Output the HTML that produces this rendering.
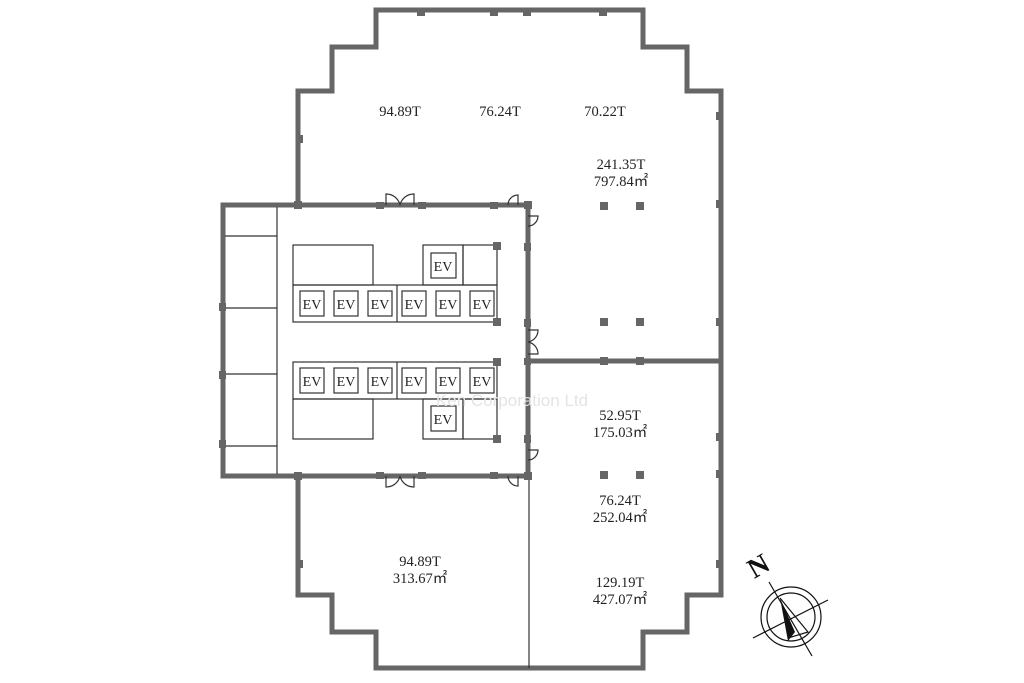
<!DOCTYPE html>
<html><head><meta charset="utf-8"><style>
html,body{margin:0;padding:0;background:#fff;}
svg{display:block}
text{font-family:"Liberation Serif",serif;font-size:14.5px;fill:#222;text-anchor:middle}
.ev{font-size:14px}
</style></head><body>
<svg width="1024" height="683" viewBox="0 0 1024 683" xmlns="http://www.w3.org/2000/svg">
<g fill="none" stroke="#666" stroke-width="5" stroke-linejoin="miter">
<polyline points="298,205 298,91 332,91 332,47 376,47 376,10 643,10 643,47 687,47 687,91 721,91 721,595 687,595 687,632 643,632 643,668 376,668 376,632 332,632 332,595 298,595 298,476"/>
<rect x="223" y="205" width="305" height="271"/>
<line x1="528" y1="361" x2="721" y2="361"/>
</g>
<g stroke="#333" stroke-width="1.2" fill="none">
<line x1="529" y1="476" x2="529" y2="668"/>
<line x1="277" y1="207" x2="277" y2="474"/>
<line x1="225" y1="236" x2="277" y2="236"/>
<line x1="225" y1="308" x2="277" y2="308"/>
<line x1="225" y1="374" x2="277" y2="374"/>
<line x1="225" y1="446" x2="277" y2="446"/>
<rect x="293" y="245" width="80" height="40"/>
<rect x="423" y="245" width="40" height="40"/>
<rect x="463" y="245" width="34" height="40"/>
<rect x="293" y="285" width="204" height="37"/>
<line x1="397" y1="285" x2="397" y2="322"/>
<rect x="293" y="362" width="204" height="37"/>
<line x1="397" y1="362" x2="397" y2="399"/>
<rect x="293" y="399" width="80" height="40"/>
<rect x="423" y="399" width="40" height="40"/>
<rect x="463" y="399" width="34" height="40"/>
<rect x="431" y="253" width="25" height="25"/>
<rect x="431" y="406" width="25" height="25"/>
<g>
<rect x="300" y="291" width="24" height="25"/><rect x="334" y="291" width="24" height="25"/><rect x="368" y="291" width="24" height="25"/>
<rect x="402" y="291" width="24" height="25"/><rect x="436" y="291" width="24" height="25"/><rect x="470" y="291" width="24" height="25"/>
</g>
<g transform="translate(0,77)">
<rect x="300" y="291" width="24" height="25"/><rect x="334" y="291" width="24" height="25"/><rect x="368" y="291" width="24" height="25"/>
<rect x="402" y="291" width="24" height="25"/><rect x="436" y="291" width="24" height="25"/><rect x="470" y="291" width="24" height="25"/>
</g>
<path d="M386,205 V194 A14,14 0 0 1 400,205 A14,14 0 0 1 414,194 V205"/>
<path d="M386,476 V487 A14,14 0 0 0 400,476 A14,14 0 0 0 414,487 V476"/>
<path d="M518,205 V195 A10,10 0 0 0 508,205"/>
<path d="M518,476 V486 A10,10 0 0 1 508,476"/>
<path d="M528,216 H538 A10,10 0 0 1 528,226"/>
<path d="M528,450 H538 A10,10 0 0 1 528,460"/>
<path d="M528,330 H538 A12,12 0 0 1 528,342 A12,12 0 0 1 538,354 H528"/>
</g>
<g fill="#666">
<rect x="294" y="201" width="8" height="8"/><rect x="294" y="472" width="8" height="8"/>
<rect x="376" y="202" width="8" height="7"/><rect x="418" y="202" width="8" height="7"/><rect x="490" y="202" width="8" height="7"/>
<rect x="376" y="472" width="8" height="7"/><rect x="418" y="472" width="8" height="7"/><rect x="490" y="472" width="8" height="7"/>
<rect x="524" y="201" width="8" height="8"/><rect x="524" y="472" width="8" height="8"/>
<rect x="524" y="243" width="7" height="8"/><rect x="524" y="319" width="7" height="8"/><rect x="524" y="358" width="7" height="7"/><rect x="524" y="435" width="7" height="8"/>
<rect x="219" y="303" width="7" height="8"/><rect x="219" y="371" width="7" height="8"/><rect x="219" y="440" width="7" height="8"/>
<rect x="493" y="242" width="8" height="8"/><rect x="493" y="318" width="8" height="8"/><rect x="493" y="358" width="8" height="8"/><rect x="493" y="435" width="8" height="8"/>
<rect x="600" y="202" width="8" height="8"/><rect x="636" y="202" width="8" height="8"/>
<rect x="600" y="318" width="8" height="8"/><rect x="636" y="318" width="8" height="8"/>
<rect x="600" y="357" width="8" height="8"/><rect x="636" y="357" width="8" height="8"/>
<rect x="600" y="471" width="8" height="8"/><rect x="636" y="471" width="8" height="8"/>
<rect x="716" y="200" width="6" height="8"/><rect x="716" y="318" width="6" height="8"/><rect x="716" y="433" width="6" height="8"/><rect x="716" y="470" width="6" height="8"/><rect x="716" y="560" width="6" height="8"/><rect x="716" y="112" width="6" height="8"/>
<rect x="298" y="135" width="5" height="8"/><rect x="298" y="560" width="5" height="8"/>
<rect x="417" y="10" width="8" height="6"/><rect x="490" y="10" width="8" height="6"/><rect x="523" y="10" width="8" height="6"/><rect x="599" y="10" width="8" height="6"/>
</g>
<text x="400" y="116">94.89T</text><text x="500" y="116">76.24T</text><text x="605" y="116">70.22T</text>
<text x="621" y="169">241.35T</text><text x="621" y="186">797.84㎡</text>
<text x="620" y="420">52.95T</text><text x="620" y="437">175.03㎡</text>
<text x="620" y="505">76.24T</text><text x="620" y="522">252.04㎡</text>
<text x="620" y="587">129.19T</text><text x="620" y="604">427.07㎡</text>
<text x="420" y="566">94.89T</text><text x="420" y="583">313.67㎡</text>
<text class="ev" x="443" y="271">EV</text><text class="ev" x="443" y="424">EV</text>
<text class="ev" x="312" y="309">EV</text><text class="ev" x="346" y="309">EV</text><text class="ev" x="380" y="309">EV</text><text class="ev" x="414" y="309">EV</text><text class="ev" x="448" y="309">EV</text><text class="ev" x="482" y="309">EV</text>
<text class="ev" x="312" y="386">EV</text><text class="ev" x="346" y="386">EV</text><text class="ev" x="380" y="386">EV</text><text class="ev" x="414" y="386">EV</text><text class="ev" x="448" y="386">EV</text><text class="ev" x="482" y="386">EV</text>
<text x="512" y="406" style="font-family:'Liberation Sans',sans-serif;font-size:17px;fill:#e4e4e4">Ken Corporation Ltd</text>
<g stroke="#111" stroke-width="1.2" fill="none">
<circle cx="791" cy="617" r="30"/><circle cx="791" cy="617" r="24"/>
<line x1="769" y1="582" x2="812" y2="656"/>
<line x1="753" y1="638" x2="828" y2="600"/>
<polyline points="780,598 808,632 788,638"/>
</g>
<polygon points="780,598 795,632 788,641" fill="#111"/>
<text x="0" y="0" transform="translate(763,574) rotate(-30)" style="font-size:28px;font-weight:bold;fill:#111">N</text>
</svg>
</body></html>
